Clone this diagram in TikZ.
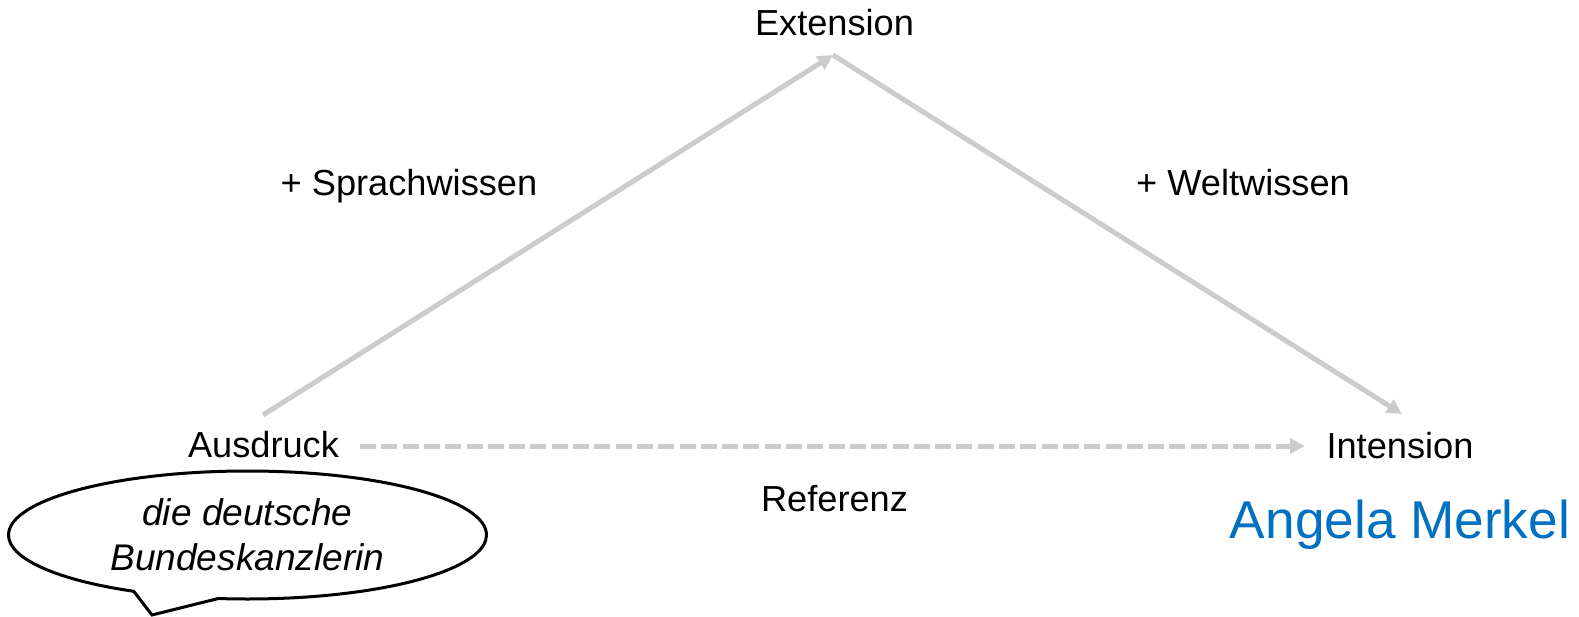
\documentclass[tikz,border=0pt]{standalone}
\usepackage{fontspec}
\setmainfont{Liberation Sans}
\usetikzlibrary{arrows.meta,shapes.geometric,shapes.callouts}
\definecolor{arrowgray}{HTML}{CCCCCC}
\definecolor{merkelblue}{HTML}{0070C0}
\tikzset{
  lbl/.style={anchor=base, inner sep=0pt, font=\fontsize{36.2}{40}\selectfont},
  garrow/.style={draw=arrowgray, line width=5pt, -{Triangle[length=15pt,width=15pt]}},
}
\begin{document}
\begin{tikzpicture}[x=1pt,y=-1pt]
\useasboundingbox (0,0) rectangle (1579,617);
% labels
\node[lbl] (ext) at (834.5,36) {Extension};
\node[lbl] (spr) at (409,196) {+ Sprachwissen};
\node[lbl] (welt) at (1243,196) {+ Weltwissen};
\node[lbl] (aus) at (263.5,457.5) {Ausdruck};
\node[lbl] (int) at (1400,458) {Intension};
\node[lbl] (ref) at (834.5,511) {Referenz};
\node[lbl, font=\fontsize{53.2}{60}\selectfont, text=merkelblue] (am) at (1400,538) {Angela Merkel};
% arrow end points
\coordinate (ausTop) at (263,415);
\coordinate (apex) at (833,55);
\coordinate (intTop) at (1402,414);
\coordinate (ausRight) at (360,446);
\coordinate (intLeft) at (1305,446);
\draw[garrow] (ausTop) -- (apex);
\draw[garrow] (apex) -- (intTop);
\draw[garrow, dash pattern=on 16pt off 5.3pt] (ausRight) -- (intLeft);
% speech bubble
\coordinate (tip) at (152,615);
\node[ellipse callout, draw, line width=3pt, fill=white, minimum width=478pt, minimum height=128pt, inner sep=0pt,
      callout absolute pointer={(tip)}, callout pointer arc=21.4,
      align=center, font=\fontsize{37.1}{45}\selectfont\itshape] (bubble) at (247.5,535)
      {die deutsche\\Bundeskanzlerin};
\end{tikzpicture}
\end{document}
